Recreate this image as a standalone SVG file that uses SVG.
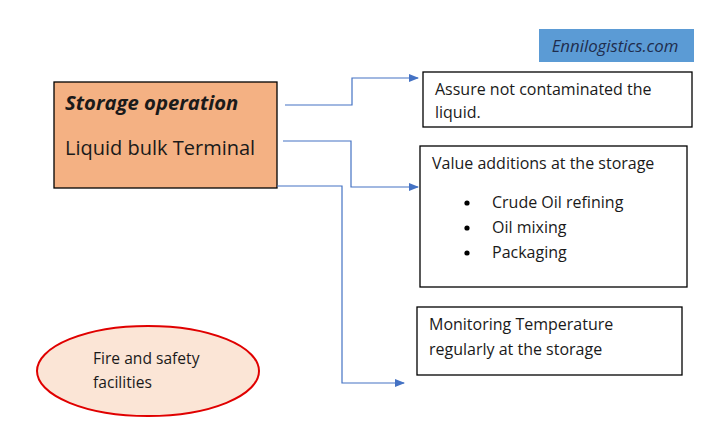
<svg xmlns="http://www.w3.org/2000/svg" width="709" height="440" viewBox="0 0 709 440">
<defs>
<marker id="arr" markerWidth="10" markerHeight="8" refX="9" refY="4" orient="auto" markerUnits="userSpaceOnUse">
<path d="M0,0 L10,4 L0,8 Z" fill="#4472c4"/>
</marker>
<style>
.t{font-family:"Open Sans",Lato,sans-serif;font-size:16px;fill:#1a1a1a}
.box{fill:#fff;stroke:#000;stroke-width:1.3}
.con{fill:none;stroke:#4472c4;stroke-width:1.2;marker-end:url(#arr)}
</style>
</defs>
<rect width="709" height="440" fill="#fff"/>
<g id="brand">
<rect x="539" y="29" width="155" height="33" fill="#5b9bd5"/>
<text x="615" y="52" class="t" text-anchor="middle" font-style="italic" style="fill:#1f2d4d;font-size:16.8px">Ennilogistics.com</text>
</g>
<g id="main">
<rect x="54" y="82" width="223" height="106" fill="#f4b183" stroke="#000" stroke-width="1.3"/>
<text x="65" y="110" class="t" style="font-size:20.3px;font-weight:bold;font-style:italic">Storage operation</text>
<text x="65" y="155" class="t" style="font-size:20px">Liquid bulk Terminal</text>
</g>
<g id="connectors">
<path class="con" d="M285,105 H352 V78 H418"/>
<path class="con" d="M283,141 H351 V187 H418"/>
<path class="con" d="M277,186 H342 V383 H404"/>
</g>
<g id="assure">
<rect x="423" y="72" width="269" height="55" class="box"/>
<text x="435" y="95" class="t">Assure not contaminated the</text>
<text x="435" y="118" class="t">liquid.</text>
</g>
<g id="value">
<rect x="420" y="146" width="267" height="141" class="box"/>
<text x="432" y="169" class="t">Value additions at the storage</text>
<circle cx="467" cy="203" r="2.6" fill="#000"/>
<circle cx="467" cy="228" r="2.6" fill="#000"/>
<circle cx="467" cy="253" r="2.6" fill="#000"/>
<text x="492" y="208" class="t">Crude Oil refining</text>
<text x="492" y="233" class="t">Oil mixing</text>
<text x="492" y="258" class="t">Packaging</text>
</g>
<g id="monitor">
<rect x="417" y="307" width="265" height="68" class="box"/>
<text x="429" y="330" class="t">Monitoring Temperature</text>
<text x="429" y="355" class="t">regularly at the storage</text>
</g>
<g id="fire">
<ellipse cx="148" cy="371" rx="111" ry="45" fill="#fbe5d6" stroke="#e00000" stroke-width="2"/>
<text x="93" y="364" class="t" style="font-size:15.6px">Fire and safety</text>
<text x="93" y="388" class="t" style="font-size:15.6px">facilities</text>
</g>
</svg>
